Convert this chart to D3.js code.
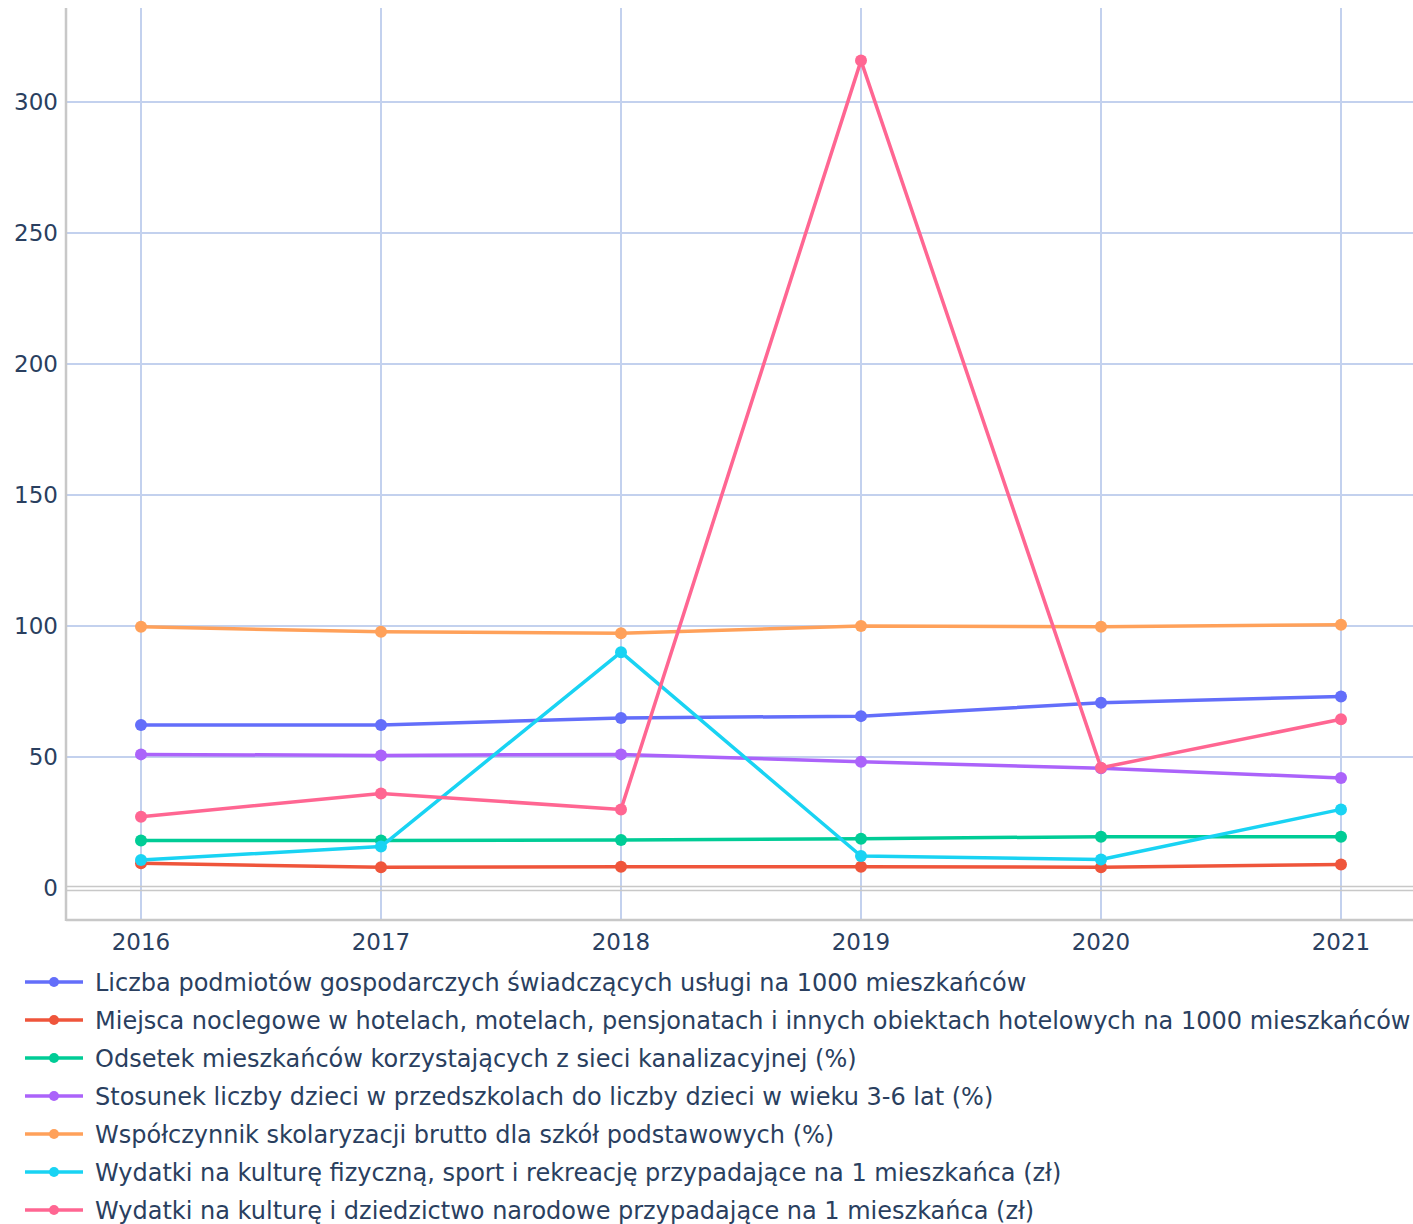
<!DOCTYPE html>
<html>
<head>
<meta charset="utf-8">
<script src="https://cdn.jsdelivr.net/npm/d3@7"></script>
<style>
  body { margin: 0; background: #fff; }
  text { font-family: "DejaVu Sans", sans-serif; fill: #2a3f5f; }
</style>
</head>
<body>
<div class="chart"></div>
<script>
// lata
const years = [2016, 2017, 2018, 2019, 2020, 2021]

// nazwy serii
const seriesNames = [
  'Liczba podmiotów gospodarczych świadczących usługi na 1000 mieszkańców',
  'Miejsca noclegowe w hotelach, motelach, pensjonatach i innych obiektach hotelowych na 1000 mieszkańców',
  'Odsetek mieszkańców korzystających z sieci kanalizacyjnej (%)',
  'Stosunek liczby dzieci w przedszkolach do liczby dzieci w wieku 3-6 lat (%)',
  'Współczynnik skolaryzacji brutto dla szkół podstawowych (%)',
  'Wydatki na kulturę fizyczną, sport i rekreację przypadające na 1 mieszkańca (zł)',
  'Wydatki na kulturę i dziedzictwo narodowe przypadające na 1 mieszkańca (zł)'
]

// wartości serii
const podmioty = [62.2, 62.2, 64.9, 65.6, 70.7, 73.1]
const noclegi = [9.4, 7.9, 8.1, 8.1, 7.9, 9.0]
const kanalizacja = [18.1, 18.1, 18.3, 18.8, 19.6, 19.6]
const przedszkola = [51.0, 50.6, 51.0, 48.2, 45.7, 42.0]
const skolaryzacja = [99.7, 97.8, 97.2, 100.0, 99.7, 100.5]
const sport = [10.7, 15.8, 90.0, 12.2, 10.9, 30.0]
const kultura = [27.2, 36.1, 30.0, 315.8, 45.9, 64.4]

const yTicks = [0, 50, 100, 150, 200, 250, 300]
const colors = ['#636efa', '#EF553B', '#00cc96', '#ab63fa', '#FFA15A', '#19d3f3', '#FF6692']

const allSeries = [podmioty, noclegi, kanalizacja, przedszkola, skolaryzacja, sport, kultura]
  .map((values, i) => ({ name: seriesNames[i], color: colors[i], values }))

const width = 1413
const height = 1224
const plot = { left: 66, right: 1413, top: 8, bottom: 920 }

const svg = d3.select('.chart').append('svg')
  .attr('width', width)
  .attr('height', height)

// skale
const x = d3.scaleLinear().domain([2016, 2021]).range([141, 1341])
const y = d3.scaleLinear().domain([0, 300]).range([888, 102])

// siatka pionowa
svg.append('g')
  .selectAll('line')
  .data(years)
  .join('line')
  .attr('x1', d => x(d)).attr('x2', d => x(d))
  .attr('y1', plot.top).attr('y2', plot.bottom)
  .attr('stroke', '#c3d1ee')
  .attr('stroke-width', 2)

// siatka pozioma
svg.append('g')
  .selectAll('line')
  .data(yTicks.filter(d => d !== 0))
  .join('line')
  .attr('x1', plot.left).attr('x2', plot.right)
  .attr('y1', d => y(d)).attr('y2', d => y(d))
  .attr('stroke', '#c3d1ee')
  .attr('stroke-width', 2)

// linia zera (podwójna)
const zero = svg.append('g')
zero.append('line')
  .attr('x1', plot.left).attr('x2', plot.right)
  .attr('y1', y(0) - 1.5).attr('y2', y(0) - 1.5)
  .attr('stroke', '#c8c8c8').attr('stroke-width', 1.5)
zero.append('line')
  .attr('x1', plot.left).attr('x2', plot.right)
  .attr('y1', y(0) + 2.5).attr('y2', y(0) + 2.5)
  .attr('stroke', '#c8c8c8').attr('stroke-width', 1.5)

// osie
svg.append('line')
  .attr('x1', plot.left).attr('x2', plot.left)
  .attr('y1', plot.top).attr('y2', plot.bottom + 1)
  .attr('stroke', '#c8c8c8').attr('stroke-width', 2.5)
svg.append('line')
  .attr('x1', plot.left).attr('x2', plot.right)
  .attr('y1', plot.bottom).attr('y2', plot.bottom)
  .attr('stroke', '#c8c8c8').attr('stroke-width', 2.5)

// etykiety osi Y
svg.append('g')
  .selectAll('text')
  .data(yTicks)
  .join('text')
  .attr('x', 58)
  .attr('y', d => y(d))
  .attr('dy', '0.36em')
  .attr('text-anchor', 'end')
  .style('font-size', '23px')
  .text(d => d)

// etykiety osi X
svg.append('g')
  .selectAll('text')
  .data(years)
  .join('text')
  .attr('x', d => x(d))
  .attr('y', 942)
  .attr('dy', '0.36em')
  .attr('text-anchor', 'middle')
  .style('font-size', '23px')
  .text(d => d)

// linie serii
const line = d3.line()
  .x((d, i) => x(years[i]))
  .y(d => y(d))

const seriesG = svg.append('g')
  .selectAll('g')
  .data(allSeries)
  .join('g')

seriesG.append('path')
  .attr('d', d => line(d.values))
  .attr('fill', 'none')
  .attr('stroke', d => d.color)
  .attr('stroke-width', 3.5)
  .attr('stroke-linejoin', 'round')

seriesG.selectAll('circle')
  .data(d => d.values.map((v, i) => ({ v, i, color: d.color })))
  .join('circle')
  .attr('cx', d => x(years[d.i]))
  .attr('cy', d => y(d.v))
  .attr('r', 6)
  .attr('fill', d => d.color)

// legenda
const legend = svg.append('g')
  .selectAll('g')
  .data(allSeries)
  .join('g')
  .attr('transform', (d, i) => `translate(0, ${982 + i * 38})`)

legend.append('line')
  .attr('x1', 25).attr('x2', 83)
  .attr('stroke', d => d.color)
  .attr('stroke-width', 3.5)
legend.append('circle')
  .attr('cx', 54)
  .attr('r', 5)
  .attr('fill', d => d.color)
legend.append('text')
  .attr('x', 95)
  .attr('dy', '0.36em')
  .style('font-size', '24px')
  .text(d => d.name)
</script>
</body>
</html>
